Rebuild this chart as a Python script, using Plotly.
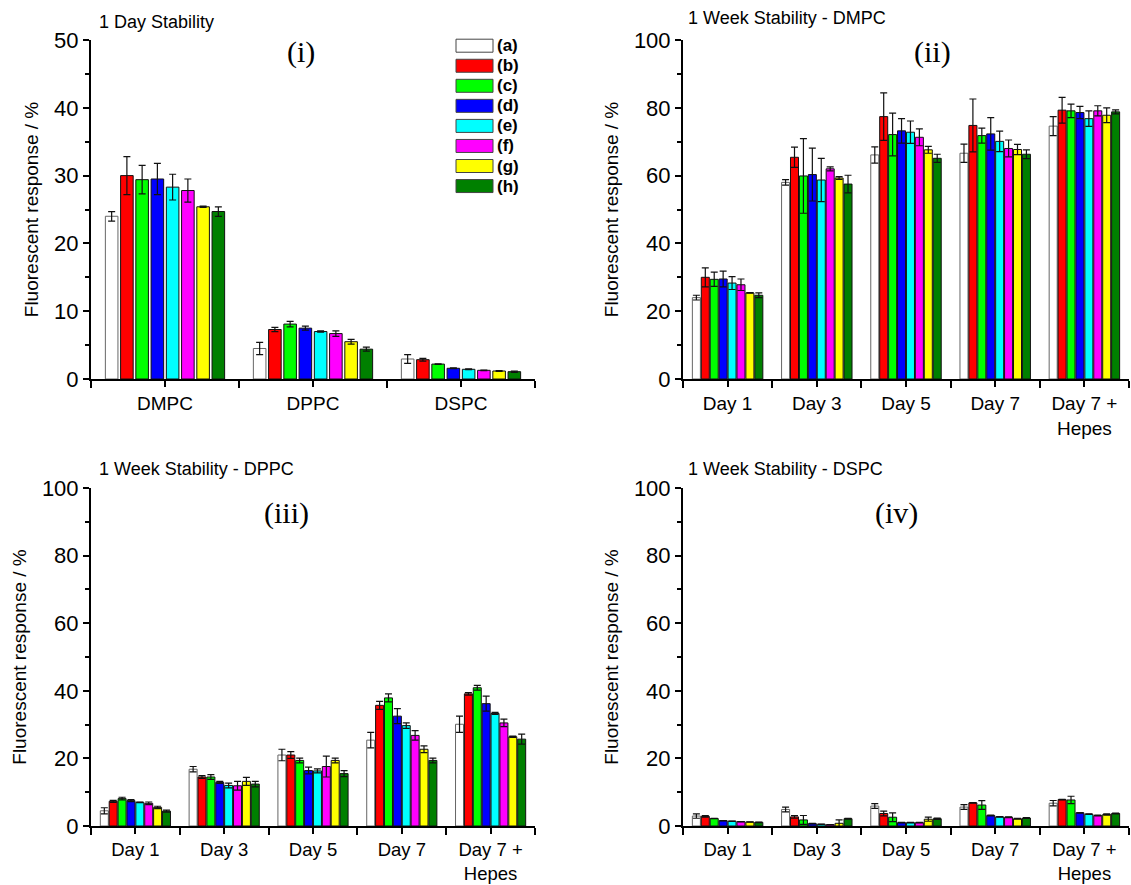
import plotly.graph_objects as go

# ---------------- data ----------------
series_names = ["(a)", "(b)", "(c)", "(d)", "(e)", "(f)", "(g)", "(h)"]

lipids = ["DMPC", "DPPC", "DSPC"]
days = ["Day 1", "Day 3", "Day 5", "Day 7", "Day 7 +<br>Hepes"]

# Panel (i): 1 day stability, values per series across lipids [DMPC, DPPC, DSPC]
p1_vals = [
    [24.0, 4.5, 2.95],
    [30.0, 7.3, 2.85],
    [29.4, 8.1, 2.2],
    [29.5, 7.5, 1.58],
    [28.3, 7.0, 1.43],
    [27.8, 6.7, 1.28],
    [25.4, 5.5, 1.18],
    [24.7, 4.4, 1.08],
]
p1_err = [
    [0.7, 0.9, 0.65],
    [2.8, 0.3, 0.2],
    [2.1, 0.4, 0.05],
    [2.3, 0.3, 0.05],
    [1.9, 0.1, 0.05],
    [1.7, 0.4, 0.05],
    [0.1, 0.35, 0.05],
    [0.7, 0.3, 0.1],
]

# Panel (ii): 1 week DMPC, per series across days
p2_vals = [
    [24.0, 58.0, 66.1, 66.6, 74.6],
    [30.0, 65.4, 77.4, 74.8, 79.3],
    [29.4, 59.9, 72.1, 71.8, 79.1],
    [29.5, 60.3, 73.2, 72.3, 78.6],
    [28.3, 58.7, 72.8, 70.1, 76.8],
    [27.8, 62.0, 71.3, 68.0, 79.1],
    [25.4, 59.3, 67.6, 67.7, 77.8],
    [24.7, 57.5, 65.1, 66.3, 78.8],
]
p2_err = [
    [0.7, 0.8, 2.4, 2.7, 2.8],
    [2.8, 3.0, 7.0, 7.8, 3.8],
    [2.1, 11.0, 6.3, 2.2, 2.0],
    [2.3, 7.8, 3.6, 4.8, 1.8],
    [1.9, 6.4, 3.3, 3.0, 2.3],
    [1.7, 0.6, 2.5, 2.5, 1.5],
    [0.1, 0.4, 1.0, 1.5, 2.2],
    [0.7, 2.6, 1.2, 1.3, 0.6],
]

# Panel (iii): 1 week DPPC
p3_vals = [
    [4.5, 16.8, 21.0, 25.4, 30.1],
    [7.3, 14.5, 21.0, 35.7, 39.1],
    [8.1, 14.5, 19.4, 37.9, 40.9],
    [7.5, 12.9, 16.4, 32.5, 36.2],
    [7.0, 12.0, 16.3, 29.7, 33.3],
    [6.7, 11.9, 17.6, 26.8, 30.5],
    [5.5, 13.2, 19.4, 22.7, 26.4],
    [4.4, 12.4, 15.5, 19.4, 25.7],
]
p3_err = [
    [0.9, 0.8, 1.7, 2.3, 2.4],
    [0.3, 0.4, 1.0, 1.2, 0.4],
    [0.4, 0.7, 0.7, 1.2, 0.7],
    [0.3, 0.3, 1.0, 2.2, 2.2],
    [0.1, 0.7, 0.6, 0.8, 0.3],
    [0.4, 1.3, 3.1, 1.4, 1.1],
    [0.35, 1.2, 0.7, 1.0, 0.2],
    [0.3, 0.8, 0.9, 0.7, 1.5],
]

# Panel (iv): 1 week DSPC
p4_vals = [
    [2.95, 4.9, 5.9, 5.6, 6.75],
    [2.85, 2.7, 3.7, 6.85, 7.8],
    [2.2, 1.8, 2.6, 6.2, 7.7],
    [1.58, 0.7, 1.0, 3.1, 3.9],
    [1.43, 0.5, 1.0, 2.7, 3.5],
    [1.28, 0.4, 1.0, 2.6, 3.1],
    [1.18, 0.8, 2.0, 2.15, 3.4],
    [1.08, 2.15, 2.15, 2.35, 3.7],
]
p4_err = [
    [0.65, 0.7, 0.7, 0.7, 0.8],
    [0.2, 0.4, 0.7, 0.1, 0.1],
    [0.05, 1.3, 1.3, 1.3, 1.1],
    [0.05, 0.05, 0.1, 0.1, 0.1],
    [0.05, 0.05, 0.1, 0.1, 0.1],
    [0.05, 0.05, 0.1, 0.1, 0.1],
    [0.05, 1.0, 0.6, 0.1, 0.2],
    [0.1, 0.1, 0.2, 0.1, 0.1],
]

panel_titles = ["1 Day Stability", "1 Week Stability - DMPC",
                "1 Week Stability - DPPC", "1 Week Stability - DSPC"]
panel_tags = ["(i)", "(ii)", "(iii)", "(iv)"]
y_title = "Fluorescent response / %"

# ---------------- style ----------------
colors = ["#FFFFFF", "#FF0000", "#00FF00", "#0000FF", "#00FFFF", "#FF00FF", "#FFFF00", "#008000"]
edge_colors = ["#666666", "#111111", "#111111", "#111111", "#111111", "#111111", "#111111", "#111111"]

W, H = 1131, 885


def px(x):
    return x / W


def py(y):
    return 1 - y / H


fig = go.Figure()

panels = [
    dict(cats=lipids, vals=p1_vals, err=p1_err, ymax=50, ydt=10, pitch=0.103, width=0.085,
         xa="x", ya="y", xd=[px(91), px(535)], yd=[py(379), py(40)], xfs=19),
    dict(cats=days, vals=p2_vals, err=p2_err, ymax=100, ydt=20, pitch=0.1, width=0.09,
         xa="x2", ya="y2", xd=[px(683), px(1129)], yd=[py(379), py(40)], xfs=19),
    dict(cats=days, vals=p3_vals, err=p3_err, ymax=100, ydt=20, pitch=0.1, width=0.09,
         xa="x3", ya="y3", xd=[px(91), px(535)], yd=[py(826), py(488)], xfs=18.5),
    dict(cats=days, vals=p4_vals, err=p4_err, ymax=100, ydt=20, pitch=0.1, width=0.09,
         xa="x4", ya="y4", xd=[px(683), px(1129)], yd=[py(826), py(488)], xfs=18.5),
]

font_main = "Liberation Sans, Arial, sans-serif"

for pi, P in enumerate(panels):
    n = len(P["cats"])
    xs = list(range(n))
    p, w = P["pitch"], P["width"]
    for k in range(len(series_names)):
        off = -4 * p + k * p + (p - w) / 2
        fig.add_trace(go.Bar(
            x=xs, y=P["vals"][k], name=series_names[k],
            xaxis=P["xa"], yaxis=P["ya"],
            width=w, offset=off,
            marker=dict(color=colors[k], line=dict(color=edge_colors[k], width=1)),
            error_y=dict(type="data", array=P["err"][k], visible=True,
                         color="#111111", thickness=1.2, width=3.5),
            showlegend=False,
        ))
    axis_suffix = "" if pi == 0 else str(pi + 1)
    xkey = "xaxis" + axis_suffix
    ykey = "yaxis" + axis_suffix
    fig.update_layout(**{
        xkey: dict(
            domain=P["xd"], anchor=P["ya"], range=[-0.5, n - 0.5], automargin=False,
            tickmode="array", tickvals=xs, ticktext=P["cats"],
            showline=True, linecolor="black", linewidth=2,
            ticks="outside", ticklen=6, tickwidth=1.5, tickcolor="black",
            minor=dict(tickmode="linear", tick0=-0.5, dtick=1, ticks="outside",
                       ticklen=7, tickwidth=1.5, tickcolor="black", showgrid=False),
            showgrid=False, zeroline=False,
            tickfont=dict(family=font_main, size=P["xfs"], color="black"),
            fixedrange=True,
        ),
        ykey: dict(
            domain=P["yd"], anchor=P["xa"], range=[0, P["ymax"]], automargin=False,
            tickmode="linear", tick0=0, dtick=P["ydt"],
            showline=True, linecolor="black", linewidth=2,
            ticks="outside", ticklen=6, tickwidth=1.5, tickcolor="black",
            minor=dict(tickmode="linear", tick0=P["ydt"] / 2, dtick=P["ydt"], ticks="outside",
                       ticklen=4, tickwidth=1.5, tickcolor="black", showgrid=False),
            showgrid=False, zeroline=False,
            tickfont=dict(family=font_main, size=22, color="black"),
            title=dict(text=y_title, font=dict(family=font_main, size=19, color="black"),
                       standoff=10),
            fixedrange=True,
        ),
    })

annotations = []
title_pos = [(97, 22), (686, 18), (97, 469), (686, 469)]
tag_pos = [(301, 52), (932, 52), (286, 513), (896, 513)]
for i in range(4):
    tx, ty = title_pos[i]
    annotations.append(dict(x=px(tx), y=py(ty), xref="paper", yref="paper",
                            text=panel_titles[i], showarrow=False, xanchor="left", yanchor="middle",
                            font=dict(family=font_main, size=18, color="black")))
    gx, gy = tag_pos[i]
    annotations.append(dict(x=px(gx), y=py(gy), xref="paper", yref="paper",
                            text=panel_tags[i], showarrow=False, xanchor="center", yanchor="middle",
                            font=dict(family="Liberation Serif, Times New Roman, serif", size=30,
                                      color="black")))

# custom legend in panel (i)
shapes = []
for k, nm in enumerate(series_names):
    cy = 45.7 + k * 20.05
    shapes.append(dict(type="rect", xref="paper", yref="paper",
                       x0=px(456), x1=px(493), y0=py(cy + 6.5), y1=py(cy - 6.5),
                       fillcolor=colors[k], line=dict(color="#444444", width=1)))
    annotations.append(dict(x=px(495), y=py(cy), xref="paper", yref="paper", text="<b>" + nm + "</b>",
                            showarrow=False, xanchor="left", yanchor="middle",
                            font=dict(family=font_main, size=17, color="black")))

fig.update_layout(
    width=W, height=H, margin=dict(l=0, r=0, t=0, b=0, autoexpand=False),
    paper_bgcolor="white", plot_bgcolor="white",
    barmode="overlay", showlegend=False,
    annotations=annotations, shapes=shapes,
)

fig.write_html("out.html", config={"displayModeBar": False},
               post_script="document.body.style.margin='0';")
